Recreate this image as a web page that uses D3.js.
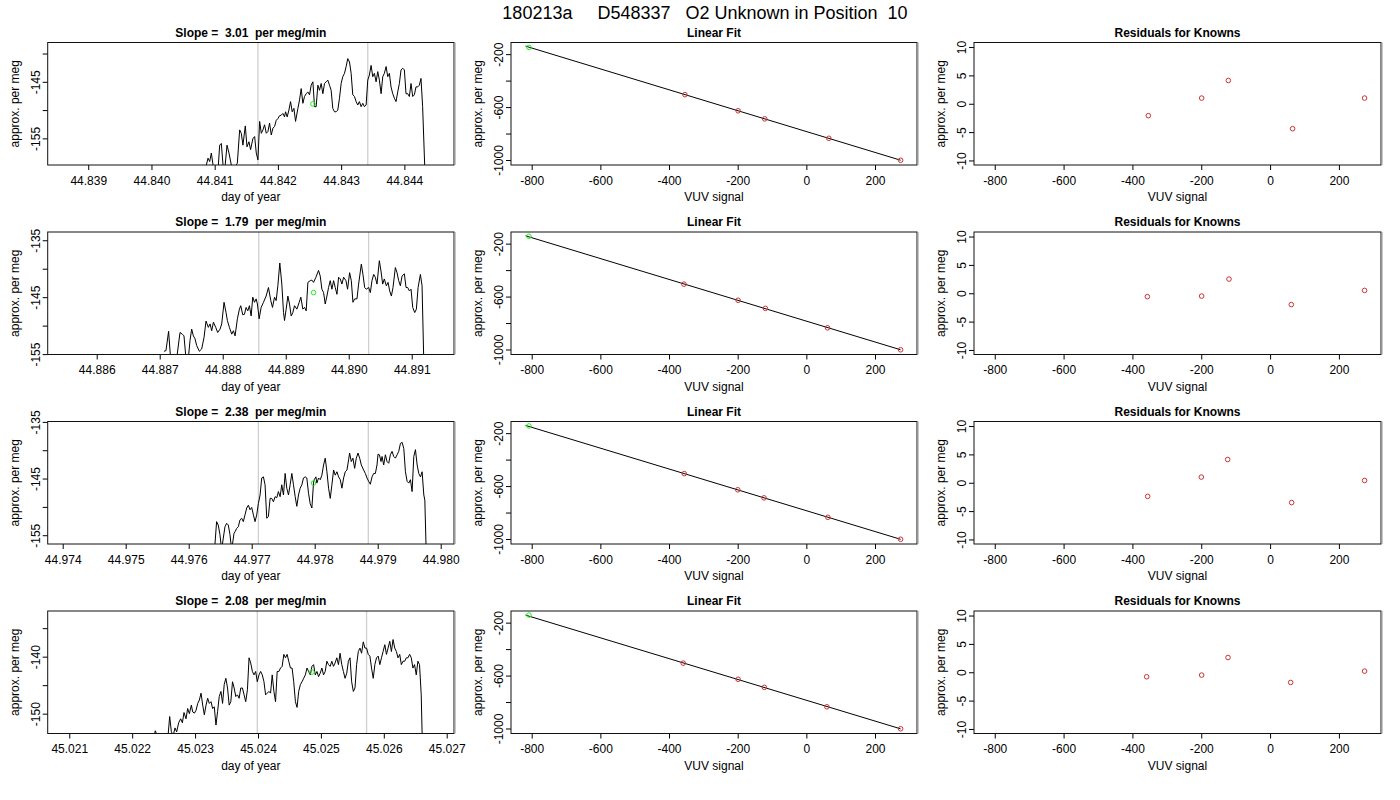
<!DOCTYPE html>
<html>
<head>
<meta charset="utf-8">
<script src="https://cdn.jsdelivr.net/npm/d3@7"></script>
<style>
  body { margin: 0; background: #fff; }
  svg { font-family: "Liberation Sans", Arial, Helvetica, sans-serif; }
</style>
</head>
<body>
<svg id="chart" width="1400" height="800"></svg>
<script>
// ---- data ----
const runTitle = "180213a     D548337   O2 Unknown in Position  10";
const slopes = [3.01, 1.79, 2.38, 2.08]; // per meg/min

// per meg trace vs day of year, one per repeat
const trace1 = [[44.840868,-159.7],[44.840895,-158.5],[44.840921,-159.1],[44.840947,-157.6],[44.840974,-159.7],[44.841011,-160.9],[44.841053,-160.6],[44.841079,-156.2],[44.841105,-155.9],[44.841132,-159.7],[44.841158,-160.7],[44.841195,-156.2],[44.841226,-157.6],[44.841263,-159.7],[44.841289,-159.9],[44.841326,-159.9],[44.841358,-159.4],[44.841395,-153.5],[44.841421,-154.1],[44.841447,-156.2],[44.841484,-152.8],[44.841511,-156.5],[44.841542,-155.6],[44.841568,-157.0],[44.841605,-155.0],[44.841632,-154.7],[44.841658,-157.6],[44.841684,-158.8],[44.841711,-152.0],[44.841737,-154.1],[44.841763,-153.5],[44.841789,-152.6],[44.841816,-154.1],[44.841842,-153.8],[44.841868,-152.3],[44.841895,-154.4],[44.841921,-153.2],[44.841947,-152.9],[44.841974,-151.8],[44.842000,-151.5],[44.842026,-151.0],[44.842053,-150.9],[44.842079,-150.6],[44.842105,-151.2],[44.842121,-150.3],[44.842147,-151.2],[44.842174,-150.0],[44.842200,-148.5],[44.842226,-150.3],[44.842253,-149.7],[44.842279,-152.0],[44.842316,-149.7],[44.842342,-148.2],[44.842368,-146.2],[44.842395,-148.8],[44.842421,-147.6],[44.842447,-147.1],[44.842474,-146.8],[44.842500,-147.3],[44.842526,-145.6],[44.842553,-145.0],[44.842579,-149.4],[44.842605,-149.4],[44.842632,-145.6],[44.842658,-146.5],[44.842684,-145.3],[44.842711,-147.1],[44.842737,-145.3],[44.842763,-145.0],[44.842789,-144.7],[44.842816,-145.6],[44.842842,-146.5],[44.842868,-149.7],[44.842895,-150.3],[44.842921,-150.3],[44.842947,-150.0],[44.842974,-147.9],[44.843000,-145.3],[44.843026,-144.1],[44.843053,-143.5],[44.843079,-142.3],[44.843105,-140.9],[44.843132,-141.5],[44.843158,-143.5],[44.843184,-147.3],[44.843211,-147.6],[44.843237,-148.5],[44.843263,-149.1],[44.843289,-148.5],[44.843316,-149.4],[44.843342,-148.8],[44.843368,-149.4],[44.843395,-149.1],[44.843421,-144.7],[44.843447,-143.8],[44.843474,-142.1],[44.843500,-144.1],[44.843526,-143.5],[44.843553,-145.0],[44.843579,-143.2],[44.843605,-144.7],[44.843632,-147.1],[44.843658,-144.1],[44.843684,-143.5],[44.843711,-142.3],[44.843737,-144.1],[44.843763,-143.5],[44.843789,-145.9],[44.843816,-147.1],[44.843842,-147.9],[44.843868,-148.5],[44.843895,-146.8],[44.843921,-145.3],[44.843947,-142.9],[44.843974,-142.6],[44.844000,-142.9],[44.844026,-147.1],[44.844053,-147.1],[44.844079,-147.6],[44.844105,-145.3],[44.844132,-147.6],[44.844158,-147.3],[44.844184,-145.9],[44.844211,-145.9],[44.844237,-145.6],[44.844263,-144.4],[44.844289,-149.4],[44.844326,-161.2]];

const trace2 = [[44.887067,-154.5],[44.887099,-154.4],[44.887141,-151.0],[44.887173,-155.8],[44.887269,-155.8],[44.887322,-151.2],[44.887359,-151.5],[44.887385,-151.8],[44.887417,-155.8],[44.887454,-155.8],[44.887481,-152.6],[44.887507,-150.6],[44.887534,-151.8],[44.887560,-152.3],[44.887587,-153.5],[44.887629,-154.5],[44.887666,-154.1],[44.887703,-152.1],[44.887735,-149.2],[44.887772,-150.3],[44.887799,-149.7],[44.887825,-150.9],[44.887852,-149.4],[44.887889,-150.3],[44.887920,-151.2],[44.887958,-150.6],[44.887984,-149.7],[44.888021,-145.9],[44.888053,-147.7],[44.888074,-149.1],[44.888106,-150.3],[44.888143,-151.5],[44.888170,-150.9],[44.888196,-151.8],[44.888233,-148.8],[44.888265,-147.1],[44.888286,-146.5],[44.888318,-148.1],[44.888345,-148.0],[44.888371,-146.8],[44.888398,-147.4],[44.888424,-146.5],[44.888451,-148.3],[44.888477,-145.0],[44.888504,-145.9],[44.888530,-145.3],[44.888551,-146.2],[44.888578,-148.8],[44.888610,-146.8],[44.888647,-145.9],[44.888689,-144.8],[44.888726,-143.3],[44.888763,-145.6],[44.888790,-146.8],[44.888822,-145.0],[44.888848,-145.6],[44.888875,-143.0],[44.888906,-139.0],[44.888938,-142.7],[44.888965,-147.7],[44.888981,-149.1],[44.889007,-147.1],[44.889034,-144.8],[44.889060,-146.2],[44.889087,-148.3],[44.889113,-147.7],[44.889140,-146.5],[44.889177,-147.1],[44.889214,-145.9],[44.889240,-145.0],[44.889272,-147.1],[44.889299,-146.8],[44.889325,-147.4],[44.889352,-142.4],[44.889389,-142.1],[44.889415,-142.0],[44.889442,-142.4],[44.889479,-141.5],[44.889521,-140.3],[44.889548,-141.3],[44.889574,-143.6],[44.889601,-144.2],[44.889627,-146.2],[44.889654,-144.8],[44.889680,-143.3],[44.889707,-142.1],[44.889733,-143.6],[44.889760,-142.1],[44.889786,-143.3],[44.889813,-144.5],[44.889839,-141.5],[44.889866,-141.8],[44.889892,-142.7],[44.889919,-141.5],[44.889956,-142.1],[44.889982,-143.6],[44.890014,-140.7],[44.890041,-142.1],[44.890067,-145.9],[44.890094,-145.3],[44.890131,-145.3],[44.890157,-142.7],[44.890200,-139.2],[44.890226,-141.0],[44.890253,-143.3],[44.890279,-143.6],[44.890316,-143.3],[44.890343,-144.2],[44.890369,-142.1],[44.890396,-141.0],[44.890422,-141.5],[44.890449,-142.7],[44.890486,-138.6],[44.890512,-140.4],[44.890539,-142.7],[44.890565,-141.8],[44.890597,-143.0],[44.890624,-142.4],[44.890650,-143.9],[44.890677,-144.8],[44.890703,-143.3],[44.890740,-139.8],[44.890767,-140.7],[44.890793,-142.1],[44.890820,-143.0],[44.890846,-141.3],[44.890883,-140.9],[44.890910,-143.3],[44.890936,-143.3],[44.890963,-143.9],[44.890989,-143.6],[44.891016,-146.8],[44.891048,-147.7],[44.891074,-147.1],[44.891101,-143.3],[44.891138,-141.0],[44.891164,-143.0],[44.891191,-156.1]];

const trace3 = [[44.976416,-156.7],[44.976443,-152.6],[44.976469,-153.2],[44.976496,-154.9],[44.976523,-157.6],[44.976549,-155.5],[44.976576,-153.5],[44.976602,-152.9],[44.976629,-153.2],[44.976655,-154.9],[44.976682,-157.6],[44.976719,-154.7],[44.976735,-154.4],[44.976761,-153.8],[44.976788,-153.5],[44.976814,-152.3],[44.976841,-152.0],[44.976867,-152.6],[44.976894,-151.4],[44.976920,-150.2],[44.976947,-149.7],[44.976973,-150.5],[44.977000,-150.1],[44.977027,-151.4],[44.977053,-152.6],[44.977080,-151.4],[44.977106,-149.4],[44.977133,-147.9],[44.977159,-144.9],[44.977186,-144.7],[44.977212,-146.1],[44.977239,-152.0],[44.977265,-151.7],[44.977292,-148.5],[44.977318,-148.5],[44.977345,-149.1],[44.977371,-148.2],[44.977398,-148.4],[44.977424,-147.3],[44.977451,-148.2],[44.977477,-146.1],[44.977504,-147.9],[44.977531,-144.1],[44.977557,-146.7],[44.977584,-147.9],[44.977610,-146.1],[44.977637,-144.1],[44.977663,-146.1],[44.977690,-148.2],[44.977716,-149.9],[44.977743,-147.9],[44.977769,-146.7],[44.977796,-146.1],[44.977822,-144.9],[44.977849,-144.7],[44.977875,-144.9],[44.977902,-147.6],[44.977928,-149.4],[44.977955,-150.2],[44.977981,-145.8],[44.977992,-145.2],[44.978019,-144.7],[44.978034,-145.8],[44.978061,-144.9],[44.978088,-145.2],[44.978114,-144.4],[44.978141,-142.6],[44.978167,-141.4],[44.978194,-143.8],[44.978220,-146.7],[44.978247,-148.5],[44.978273,-146.1],[44.978300,-143.5],[44.978326,-144.4],[44.978353,-143.8],[44.978379,-144.7],[44.978406,-145.2],[44.978432,-146.7],[44.978459,-144.9],[44.978485,-143.8],[44.978512,-143.5],[44.978538,-141.7],[44.978554,-140.5],[44.978581,-142.0],[44.978607,-141.4],[44.978634,-143.2],[44.978660,-141.4],[44.978687,-140.5],[44.978714,-141.4],[44.978740,-142.6],[44.978777,-143.5],[44.978804,-144.1],[44.978830,-144.9],[44.978857,-145.5],[44.978883,-146.0],[44.978910,-144.7],[44.978936,-144.1],[44.978963,-144.1],[44.978989,-142.6],[44.979005,-140.7],[44.979027,-140.8],[44.979053,-142.0],[44.979069,-141.1],[44.979095,-142.6],[44.979122,-140.8],[44.979148,-142.0],[44.979175,-142.3],[44.979201,-140.8],[44.979228,-140.2],[44.979254,-141.1],[44.979281,-141.4],[44.979308,-140.8],[44.979334,-140.2],[44.979361,-138.8],[44.979387,-138.6],[44.979414,-139.7],[44.979440,-143.8],[44.979467,-145.5],[44.979493,-145.8],[44.979520,-145.2],[44.979546,-147.3],[44.979573,-141.1],[44.979599,-139.9],[44.979626,-142.6],[44.979652,-144.1],[44.979679,-144.7],[44.979705,-143.8],[44.979732,-147.9],[44.979748,-148.8],[44.979769,-157.6]];

const trace4 = [[45.022342,-154.1],[45.022368,-153.0],[45.022395,-153.8],[45.022570,-153.9],[45.022596,-150.5],[45.022623,-153.2],[45.022655,-153.7],[45.022681,-152.5],[45.022707,-153.2],[45.022739,-151.6],[45.022771,-150.9],[45.022798,-151.6],[45.022824,-149.8],[45.022856,-150.9],[45.022882,-149.1],[45.022909,-150.0],[45.022941,-148.5],[45.022962,-149.7],[45.022990,-149.9],[45.023016,-149.4],[45.023042,-148.2],[45.023068,-147.6],[45.023095,-146.4],[45.023121,-148.5],[45.023147,-150.2],[45.023174,-148.5],[45.023200,-147.3],[45.023226,-148.2],[45.023253,-147.9],[45.023279,-149.1],[45.023305,-148.8],[45.023332,-152.0],[45.023358,-149.6],[45.023384,-147.0],[45.023411,-146.1],[45.023437,-148.2],[45.023463,-144.9],[45.023489,-143.8],[45.023516,-145.5],[45.023542,-148.5],[45.023568,-147.9],[45.023595,-144.4],[45.023621,-145.5],[45.023647,-147.0],[45.023674,-146.7],[45.023700,-147.3],[45.023726,-145.5],[45.023753,-145.5],[45.023779,-146.7],[45.023805,-147.9],[45.023832,-145.8],[45.023858,-140.2],[45.023884,-141.1],[45.023911,-142.6],[45.023937,-143.2],[45.023963,-142.6],[45.023989,-144.4],[45.024016,-143.2],[45.024042,-142.6],[45.024068,-143.2],[45.024095,-144.4],[45.024121,-146.7],[45.024147,-146.4],[45.024174,-146.1],[45.024200,-146.4],[45.024226,-143.2],[45.024253,-146.1],[45.024279,-147.9],[45.024305,-142.6],[45.024332,-142.6],[45.024358,-142.0],[45.024384,-141.7],[45.024411,-139.6],[45.024437,-140.2],[45.024463,-139.6],[45.024489,-140.8],[45.024516,-142.0],[45.024542,-142.0],[45.024568,-144.4],[45.024595,-147.9],[45.024621,-148.9],[45.024647,-146.1],[45.024674,-144.9],[45.024700,-144.4],[45.024726,-143.8],[45.024753,-143.2],[45.024779,-142.0],[45.024805,-142.6],[45.024832,-143.2],[45.024858,-141.7],[45.024884,-141.4],[45.024911,-143.2],[45.024937,-142.6],[45.024963,-143.5],[45.024989,-142.9],[45.025016,-142.0],[45.025042,-143.2],[45.025068,-142.6],[45.025095,-140.8],[45.025121,-141.4],[45.025147,-141.7],[45.025174,-140.8],[45.025200,-141.7],[45.025226,-141.1],[45.025253,-140.2],[45.025279,-141.4],[45.025305,-139.4],[45.025332,-141.4],[45.025358,-142.6],[45.025384,-143.8],[45.025411,-142.9],[45.025437,-140.8],[45.025463,-140.2],[45.025489,-144.4],[45.025516,-146.1],[45.025542,-145.5],[45.025568,-141.4],[45.025595,-139.1],[45.025621,-138.5],[45.025647,-139.4],[45.025674,-137.4],[45.025700,-138.5],[45.025726,-138.5],[45.025753,-139.6],[45.025779,-139.9],[45.025805,-142.0],[45.025832,-143.8],[45.025858,-141.4],[45.025884,-140.2],[45.025911,-139.9],[45.025937,-141.4],[45.025963,-140.2],[45.025989,-139.1],[45.026016,-137.9],[45.026042,-139.6],[45.026068,-138.5],[45.026095,-137.3],[45.026121,-139.1],[45.026147,-137.0],[45.026174,-138.5],[45.026200,-139.1],[45.026226,-140.2],[45.026253,-139.6],[45.026279,-141.4],[45.026305,-140.8],[45.026332,-140.8],[45.026358,-140.2],[45.026384,-140.2],[45.026411,-139.6],[45.026437,-140.2],[45.026463,-142.0],[45.026489,-141.4],[45.026516,-143.2],[45.026542,-140.8],[45.026568,-141.4],[45.026595,-146.7],[45.026611,-154.4]];

const traces = [trace1, trace2, trace3, trace4];

// averaging window (grey lines) and the unknown's value (green point)
const windowStart = [44.841684, 44.888572, 44.977106, 45.023989];
const windowEnd = [44.843421, 44.890316, 44.978851, 45.025726];
const unknownDay = [44.842553, 44.889442, 44.977981, 45.024858];
const unknownPerMeg = [-148.9, -144.2, -145.8, -142.7];
const unknownVUV = [-808, -808, -808, -808];

// known reference gases
const knownPerMeg = [-506, -628, -689, -836, -1002];
const knownVUV = [
  [-353.7, -198.8, -121.3, 65.5, 274.6],
  [-356.6, -198.8, -119.4, 61.7, 274.6],
  [-355.7, -199.8, -123.2, 62.7, 274.6],
  [-358.6, -198.8, -122.3, 59.8, 274.6],
];
const residuals = [
  [-2.1, 1.0, 4.1, -4.4, 1.0],
  [-0.6, -0.5, 2.5, -2.0, 0.5],
  [-2.4, 1.0, 4.1, -3.5, 0.4],
  [-0.8, -0.5, 2.6, -1.8, 0.2],
];

// axis limits and ticks
const dayDomains = [
  [44.838359, 44.844785],
  [44.885222, 44.891671],
  [44.973762, 44.980211],
  [45.020657, 45.027116],
];
const dayTicks = [
  [44.839, 44.84, 44.841, 44.842, 44.843, 44.844],
  [44.886, 44.887, 44.888, 44.889, 44.89, 44.891],
  [44.974, 44.975, 44.976, 44.977, 44.978, 44.979, 44.98],
  [45.021, 45.022, 45.023, 45.024, 45.025, 45.026, 45.027],
];
const perMegDomains = [
  [-159.71, -138.05],
  [-155.07, -133.55],
  [-156.55, -134.93],
  [-153.48, -131.99],
];
const perMegTicks = [
  [-155, -150, -145, -140],
  [-155, -150, -145, -140, -135],
  [-155, -150, -145, -140, -135],
  [-150, -145, -140, -135],
];
const perMegLabels = [
  [-155, -145],
  [-155, -145, -135],
  [-155, -145, -135],
  [-150, -140],
];
const vuvDomain = [-860.3, 322.3];
const vuvTicks = [-800, -600, -400, -200, 0, 200];
const fitDomain = [-1037.8, -112];
const fitTicks = [-1000, -800, -600, -400, -200];
const fitLabels = [-1000, -600, -200];
const residDomain = [-10.8, 10.8];
const residTicks = [-10, -5, 0, 5, 10];

// ---- layout ----
const cols = [
  { x0: 47.7, x1: 454 },
  { x0: 511, x1: 917 },
  { x0: 974, x1: 1381 },
];
const rowTop0 = 42.5;
const rowStep = 189.5;
const rowH = 122.5;
const knownColor = "#cc3333";
const unknownColor = "#22ee22";

const svg = d3.select("#chart");

svg
  .append("text")
  .attr("x", 705)
  .attr("y", 18.5)
  .attr("text-anchor", "middle")
  .attr("font-size", "18px")
  .attr("xml:space", "preserve")
  .style("white-space", "pre")
  .text(runTitle);

// bottom axis, R style
function bottomAxis(g, x, ticks, fmt, h) {
  const ax = g
    .append("g")
    .attr("transform", "translate(0," + h + ")")
    .call(d3.axisBottom(x).tickValues(ticks).tickSize(5).tickPadding(6).tickFormat(fmt));
  ax.attr("font-size", 12).attr("font-family", null);
  ax.select(".domain").remove();
  return ax;
}

// left axis with labels turned parallel to the axis
function leftAxis(g, y, ticks, labels) {
  const ax = g
    .append("g")
    .call(
      d3
        .axisLeft(y)
        .tickValues(ticks)
        .tickSize(5)
        .tickFormat((d) => (labels.includes(d) ? String(d) : ""))
    );
  ax.attr("font-size", 12).attr("font-family", null);
  ax.select(".domain").remove();
  ax.selectAll("text")
    .attr("transform", "rotate(-90)")
    .attr("x", 0)
    .attr("y", -8)
    .attr("dy", 0)
    .attr("text-anchor", "middle");
  return ax;
}

function frame(g, w, h, title, xLabel) {
  g.append("rect")
    .attr("width", w)
    .attr("height", h)
    .attr("fill", "none")
    .attr("stroke", "#111")
    .attr("stroke-width", 1);
  g.append("line")
    .attr("x1", w + 0.8)
    .attr("x2", w + 0.8)
    .attr("y1", 0)
    .attr("y2", h)
    .attr("stroke", "#999")
    .attr("stroke-width", 1.5);
  g.append("text")
    .attr("x", w / 2)
    .attr("y", -6)
    .attr("text-anchor", "middle")
    .attr("font-size", "12px")
    .attr("font-weight", "bold")
    .attr("xml:space", "preserve")
    .style("white-space", "pre")
    .text(title);
  g.append("text")
    .attr("x", w / 2)
    .attr("y", h + 36)
    .attr("text-anchor", "middle")
    .attr("font-size", "12px")
    .text(xLabel);
  g.append("text")
    .attr("transform", "rotate(-90)")
    .attr("x", -h / 2)
    .attr("y", -29)
    .attr("text-anchor", "middle")
    .attr("font-size", "12px")
    .text("approx. per meg");
}

function circles(g, xs, ys, x, y, color) {
  g.selectAll(null)
    .data(xs.map((d, k) => [d, ys[k]]))
    .join("circle")
    .attr("cx", (d) => x(d[0]))
    .attr("cy", (d) => y(d[1]))
    .attr("r", 2.3)
    .attr("fill", "none")
    .attr("stroke", color)
    .attr("stroke-width", 1);
}

traces.forEach((trace, i) => {
  const top = rowTop0 + i * rowStep;

  // --- left: trace of the unknown ---
  const wL = cols[0].x1 - cols[0].x0;
  const gL = svg.append("g").attr("transform", "translate(" + cols[0].x0 + "," + top + ")");
  const x = d3.scaleLinear().domain(dayDomains[i]).range([0, wL]);
  const y = d3.scaleLinear().domain(perMegDomains[i]).range([rowH, 0]);

  svg
    .append("defs")
    .append("clipPath")
    .attr("id", "clip" + i)
    .append("rect")
    .attr("width", wL)
    .attr("height", rowH);
  const plot = gL.append("g").attr("clip-path", "url(#clip" + i + ")");

  [windowStart[i], windowEnd[i]].forEach((d) => {
    plot
      .append("line")
      .attr("x1", x(d))
      .attr("x2", x(d))
      .attr("y1", 0)
      .attr("y2", rowH)
      .attr("stroke", "#cfcfcf")
      .attr("stroke-width", 1.3);
  });

  plot
    .append("path")
    .datum(trace)
    .attr("fill", "none")
    .attr("stroke", "#000")
    .attr("stroke-width", 1)
    .attr("stroke-linejoin", "round")
    .attr(
      "d",
      d3
        .line()
        .x((d) => x(d[0]))
        .y((d) => y(d[1]))
    );

  circles(plot, [unknownDay[i]], [unknownPerMeg[i]], x, y, unknownColor);

  bottomAxis(gL, x, dayTicks[i], (d) => d.toFixed(3), rowH);
  leftAxis(gL, y, perMegTicks[i], perMegLabels[i]);
  frame(gL, wL, rowH, "Slope =  " + slopes[i].toFixed(2) + "  per meg/min", "day of year");

  // --- middle: linear fit of knowns ---
  const wM = cols[1].x1 - cols[1].x0;
  const gM = svg.append("g").attr("transform", "translate(" + cols[1].x0 + "," + top + ")");
  const xv = d3.scaleLinear().domain(vuvDomain).range([0, wM]);
  const yf = d3.scaleLinear().domain(fitDomain).range([rowH, 0]);

  const kx = knownVUV[i];
  const mx = d3.mean(kx);
  const my = d3.mean(knownPerMeg);
  const slope =
    d3.sum(kx, (d, k) => (d - mx) * (knownPerMeg[k] - my)) / d3.sum(kx, (d) => (d - mx) * (d - mx));
  const icpt = my - slope * mx;
  const fitEnds = [unknownVUV[i] - 10, d3.max(kx)];

  gM.append("path")
    .datum(fitEnds)
    .attr("fill", "none")
    .attr("stroke", "#000")
    .attr("stroke-width", 1)
    .attr(
      "d",
      d3
        .line()
        .x((d) => xv(d))
        .y((d) => yf(icpt + slope * d))
    );
  circles(gM, kx, knownPerMeg, xv, yf, knownColor);
  circles(gM, [unknownVUV[i]], [unknownPerMeg[i]], xv, yf, unknownColor);

  bottomAxis(gM, xv, vuvTicks, (d) => String(d), rowH);
  leftAxis(gM, yf, fitTicks, fitLabels);
  frame(gM, wM, rowH, "Linear Fit", "VUV signal");

  // --- right: residuals ---
  const wR = cols[2].x1 - cols[2].x0;
  const gR = svg.append("g").attr("transform", "translate(" + cols[2].x0 + "," + top + ")");
  const xr = d3.scaleLinear().domain(vuvDomain).range([0, wR]);
  const yr = d3.scaleLinear().domain(residDomain).range([rowH, 0]);

  circles(gR, kx, residuals[i], xr, yr, knownColor);

  bottomAxis(gR, xr, vuvTicks, (d) => String(d), rowH);
  leftAxis(gR, yr, residTicks, residTicks);
  frame(gR, wR, rowH, "Residuals for Knowns", "VUV signal");
});
</script>
</body>
</html>
